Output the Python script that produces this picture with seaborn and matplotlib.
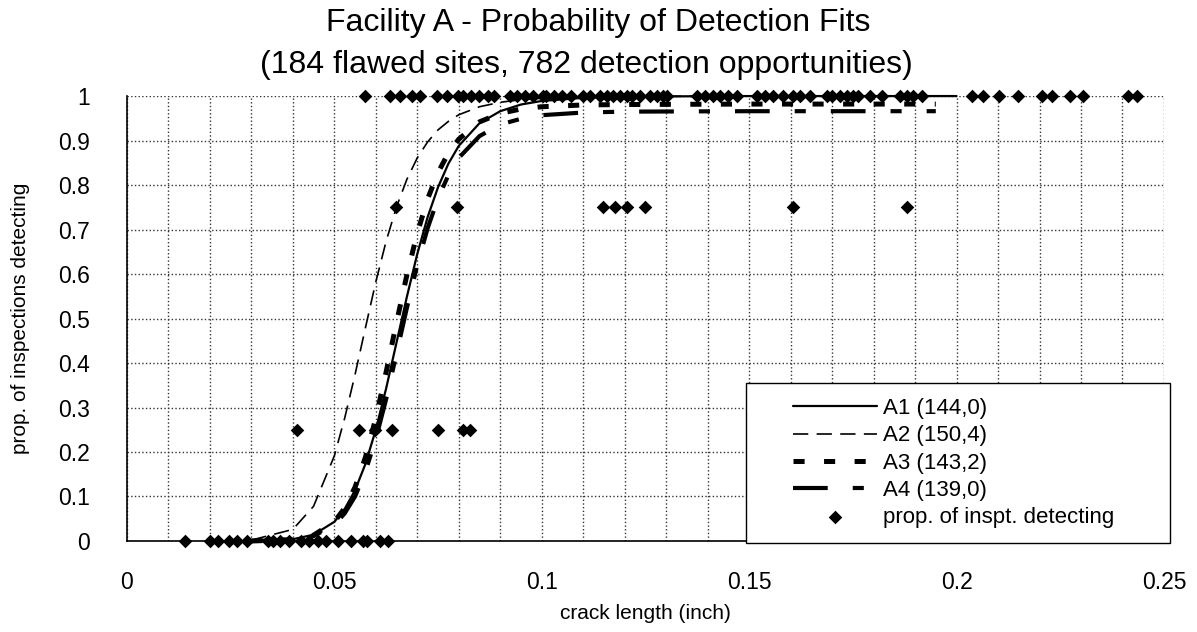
import matplotlib
matplotlib.use("Agg")
import matplotlib.pyplot as plt
from matplotlib.patches import Rectangle
import seaborn as sns
import pandas as pd

# ---------------- data ----------------
# observed proportions of inspections detecting
pts_y0_x = [0.014, 0.020, 0.022, 0.0245, 0.0265, 0.029, 0.034, 0.0352, 0.037, 0.039,
            0.042, 0.044, 0.046, 0.048, 0.051, 0.054, 0.057, 0.058, 0.061, 0.063]
pts_y25_x = [0.041, 0.056, 0.0598, 0.064, 0.075, 0.081, 0.0827]
pts_y75_x = [0.0648, 0.0796, 0.1148, 0.1176, 0.1205, 0.1249, 0.1606, 0.188]
pts_y1_x = [0.0574, 0.0634, 0.0658, 0.0687, 0.0706, 0.0747, 0.0771, 0.0798,
            0.081, 0.083, 0.085, 0.087, 0.0885, 0.0923, 0.094, 0.096, 0.098, 0.1003,
            0.101, 0.103, 0.105, 0.107, 0.110, 0.1116, 0.114, 0.1157, 0.1172, 0.1189,
            0.1205, 0.1217, 0.1237, 0.1261, 0.1278, 0.1292, 0.1302, 0.1374, 0.1393,
            0.1413, 0.143, 0.1449, 0.147, 0.1519, 0.1538, 0.1557, 0.1581, 0.1606,
            0.1622, 0.1647, 0.1688, 0.170, 0.1719, 0.1736, 0.175, 0.1762, 0.1791,
            0.182, 0.1864, 0.188, 0.1895, 0.1917, 0.2037, 0.2064, 0.2102, 0.2148,
            0.2206, 0.223, 0.2273, 0.2305, 0.2413, 0.2435]

# fitted curves
a1_x = [0.03, 0.04, 0.045, 0.05, 0.0525, 0.055, 0.0575, 0.06, 0.0625, 0.065, 0.0675,
        0.07, 0.0725, 0.075, 0.0775, 0.08, 0.085, 0.09, 0.095, 0.1, 0.11, 0.12, 0.15, 0.2]
a1_y = [0.0, 0.004, 0.014, 0.043, 0.072, 0.114, 0.173, 0.250, 0.343, 0.446, 0.549,
        0.645, 0.728, 0.795, 0.848, 0.888, 0.939, 0.966, 0.981, 0.989, 0.996, 0.999, 1.0, 1.0]
a2_x = a1_x
a2_y = [0.002, 0.026, 0.078, 0.191, 0.276, 0.374, 0.479, 0.582, 0.674, 0.751, 0.813,
        0.861, 0.897, 0.924, 0.943, 0.958, 0.976, 0.986, 0.992, 0.995, 0.998, 0.999, 1.0, 1.0]
a3_x = [0.03, 0.04, 0.045, 0.05, 0.0525, 0.055, 0.0575, 0.06, 0.0625, 0.065, 0.0675,
        0.07, 0.0725, 0.075, 0.0775, 0.08, 0.085, 0.09, 0.095, 0.1, 0.11, 0.12, 0.15, 0.195]
a3_y = [0.0, 0.003, 0.013, 0.043, 0.074, 0.121, 0.188, 0.276, 0.380, 0.491, 0.598,
        0.692, 0.769, 0.828, 0.872, 0.903, 0.942, 0.961, 0.971, 0.976, 0.980, 0.981, 0.982, 0.982]
a4_x = a3_x
a4_y = [0.0, 0.003, 0.011, 0.036, 0.062, 0.100, 0.156, 0.229, 0.319, 0.421, 0.524,
        0.620, 0.703, 0.770, 0.822, 0.861, 0.910, 0.936, 0.949, 0.957, 0.963, 0.965, 0.966, 0.966]

x_ticks = [0, 0.05, 0.1, 0.15, 0.2, 0.25]
x_tick_labels = ["0", "0.05", "0.1", "0.15", "0.2", "0.25"]
y_ticks = [0, 0.1, 0.2, 0.3, 0.4, 0.5, 0.6, 0.7, 0.8, 0.9, 1.0]
y_tick_labels = ["0", "0.1", "0.2", "0.3", "0.4", "0.5", "0.6", "0.7", "0.8", "0.9", "1"]

curve_labels = ["A1 (144,0)", "A2 (150,4)", "A3 (143,2)", "A4 (139,0)"]
points_label = "prop. of inspt. detecting"
title1 = "Facility A - Probability of Detection Fits"
title2 = "(184 flawed sites, 782 detection opportunities)"
xlabel = "crack length (inch)"
ylabel = "prop. of inspections detecting"

# ---------------- styling ----------------
sns.set_style("white")
plt.rcParams["font.family"] = ["Liberation Sans", "DejaVu Sans"]
plt.rcParams["lines.scale_dashes"] = False
plt.rcParams["text.color"] = "black"
plt.rcParams["axes.labelcolor"] = "black"
plt.rcParams["xtick.color"] = "black"
plt.rcParams["ytick.color"] = "black"

fig = plt.figure(figsize=(11.97, 6.32), dpi=100)
ax = fig.add_axes([0.106, 0.144, 0.8664, 0.704])

# points
pts = pd.DataFrame({
    "x": pts_y0_x + pts_y25_x + pts_y75_x + pts_y1_x,
    "y": [0.0] * len(pts_y0_x) + [0.25] * len(pts_y25_x)
         + [0.75] * len(pts_y75_x) + [1.0] * len(pts_y1_x),
})

# curves
styles = [
    dict(linestyle="-", lw=1.6),
    dict(linestyle=(0, (11, 6)), lw=1.2),
    dict(linestyle=(0, (8, 14)), lw=3.6),
    dict(linestyle=(0, (25, 18, 8, 18)), lw=3.0),
]
curves = [(a1_x, a1_y), (a2_x, a2_y), (a3_x, a3_y), (a4_x, a4_y)]
for (cx, cy), st, lab in zip(curves, styles, curve_labels):
    sns.lineplot(x=cx, y=cy, ax=ax, color="black", label=lab, estimator=None,
                 sort=False, clip_on=False, zorder=3, **st)

sns.scatterplot(data=pts, x="x", y="y", ax=ax, marker="D", s=48, color="black",
                edgecolor="black", linewidth=0, label=points_label, clip_on=False, zorder=4)

ax.set_xlim(0, 0.25)
ax.set_ylim(0, 1)
ax.set_xticks(x_ticks)
ax.set_xticklabels(x_tick_labels)
ax.set_yticks(y_ticks)
ax.set_yticklabels(y_tick_labels)
ax.set_xticks([i / 100 for i in range(0, 26)], minor=True)

ax.grid(which="major", axis="y", linestyle=":", color="0.2", lw=1.0)
ax.grid(which="minor", axis="x", linestyle=":", color="0.2", lw=1.0)
ax.grid(which="major", axis="x", linestyle=":", color="0.2", lw=1.0)

for s in ["top", "right"]:
    ax.spines[s].set_visible(False)
for s in ["left", "bottom"]:
    ax.spines[s].set_color("black")
    ax.spines[s].set_linewidth(1.2)

ax.tick_params(axis="both", which="major", direction="inout", length=9, width=1,
               color="black", labelcolor="black", labelsize=16.5)
ax.tick_params(axis="x", which="major", pad=17)
ax.tick_params(axis="y", which="major", pad=22)
ax.tick_params(axis="x", which="minor", length=0)

ax.set_xlabel(xlabel, fontsize=15, labelpad=7, color="black")
ax.set_ylabel(ylabel, fontsize=15, labelpad=20, color="black")

fig.text(0.4996, 0.963, title1, ha="center", va="center", fontsize=23, color="black")
fig.text(0.49, 0.897, title2, ha="center", va="center", fontsize=23, color="black")

# legend frame drawn as a box, legend content on top of it
box = Rectangle((0.597, -0.005), 0.409, 0.36, transform=ax.transAxes,
                facecolor="white", edgecolor="black", lw=1.0, clip_on=False, zorder=6)
ax.add_patch(box)
leg = ax.legend(loc="center", bbox_to_anchor=(0.597 + 0.409 / 2 - 0.004, -0.005 + 0.36 / 2),
                fontsize=16, frameon=False, handlelength=3.75, labelspacing=0.28,
                handletextpad=0.3, borderaxespad=0, borderpad=0)
for t in leg.get_texts():
    t.set_color("black")
leg.set_zorder(7)

fig.savefig("out.png", dpi=100, facecolor="white")
